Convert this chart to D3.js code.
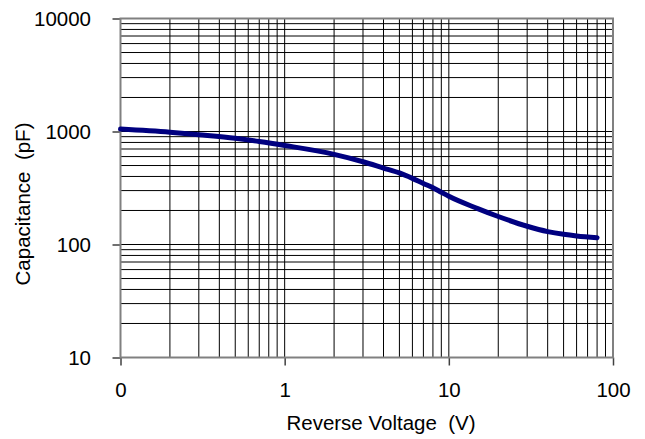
<!DOCTYPE html>
<html>
<head>
<meta charset="utf-8">
<script src="https://cdn.jsdelivr.net/npm/d3@7"></script>
<style>
  body { margin: 0; background: #fff; }
  text { font-family: "Liberation Sans", Arial, sans-serif; fill: #000; }
</style>
</head>
<body>
<div id="chart"></div>
<script>
// reverse voltage (V) and capacitance (pF)
var voltage = [0.1, 0.2, 0.3, 0.5, 0.7, 1, 2, 3, 4, 5, 6, 7, 8, 9, 10, 15, 20, 30, 40, 50, 60, 80]
var capacitance = [1050, 985, 935, 870, 815, 752, 628, 540, 475, 430, 385, 347, 318, 290, 267, 208, 177, 145, 130, 123, 119, 115]

var xTickValues = [0.1, 1, 10, 100]
var xTickLabels = ["0", "1", "10", "100"]
var yTickValues = [10, 100, 1000, 10000]
var yTickLabels = ["10", "100", "1000", "10000"]

var width = 645,
  height = 439;

var plotLeft = 120.5, plotRight = 613, plotTop = 18.5, plotBottom = 357.5;
var fontSize = "20.5px";

var svg = d3.select('#chart').append('svg')
  .attr('width', width)
  .attr('height', height)

var x = d3.scaleLog().domain([0.1, 100]).range([plotLeft, plotRight])
var y = d3.scaleLog().domain([10, 10000]).range([plotBottom, plotTop])

// grid
svg.append("g").selectAll("line")
  .data(x.ticks())
  .enter().append("line")
  .attr("x1", d => x(d))
  .attr("x2", d => x(d))
  .attr("y1", plotTop)
  .attr("y2", plotBottom)
  .style("stroke", "#000")
  .style("stroke-width", 1)

svg.append("g").selectAll("line")
  .data(y.ticks())
  .enter().append("line")
  .attr("x1", plotLeft)
  .attr("x2", plotRight)
  .attr("y1", d => y(d))
  .attr("y2", d => y(d))
  .style("stroke", "#000")
  .style("stroke-width", 1)

// axes
var xAxis = svg.append("g")
  .attr("transform", "translate(0," + plotBottom + ")")
  .call(d3.axisBottom(x)
    .tickValues(xTickValues)
    .tickFormat((d, i) => xTickLabels[i])
    .tickSize(8)
    .tickPadding(17))
xAxis.select(".domain").remove()
xAxis.selectAll("line").style("stroke", "#404040").style("stroke-width", 1.5)
xAxis.selectAll("text").style("font-size", fontSize).style("font-family", "Liberation Sans, Arial, sans-serif")

var yAxis = svg.append("g")
  .attr("transform", "translate(" + plotLeft + ",0)")
  .call(d3.axisLeft(y)
    .tickValues(yTickValues)
    .tickFormat((d, i) => yTickLabels[i])
    .tickSize(8)
    .tickPadding(21.5))
yAxis.select(".domain").remove()
yAxis.selectAll("line").style("stroke", "#404040").style("stroke-width", 1.5)
yAxis.selectAll("text").style("font-size", fontSize).style("font-family", "Liberation Sans, Arial, sans-serif")

// frame
svg.append("rect")
  .attr("x", plotLeft)
  .attr("y", plotTop)
  .attr("width", plotRight - plotLeft)
  .attr("height", plotBottom - plotTop)
  .style("fill", "none")
  .style("stroke", "#808080")
  .style("stroke-width", 2)

// curve
var line = d3.line()
  .x((d, i) => x(voltage[i]))
  .y((d, i) => y(capacitance[i]))
  .curve(d3.curveMonotoneX)

svg.append("path")
  .datum(capacitance)
  .attr("d", line)
  .style("fill", "none")
  .style("stroke", "#000080")
  .style("stroke-width", 5)
  .style("stroke-linecap", "round")

// titles
svg.append("text")
  .text("Reverse Voltage  (V)")
  .attr("x", 381)
  .attr("y", 430)
  .attr("text-anchor", "middle")
  .style("font-size", fontSize)
  .style("white-space", "pre")

svg.append("text")
  .text("Capacitance  (pF)")
  .attr("transform", "translate(30,204) rotate(-90)")
  .attr("text-anchor", "middle")
  .style("font-size", fontSize)
  .style("white-space", "pre")
</script>
</body>
</html>
